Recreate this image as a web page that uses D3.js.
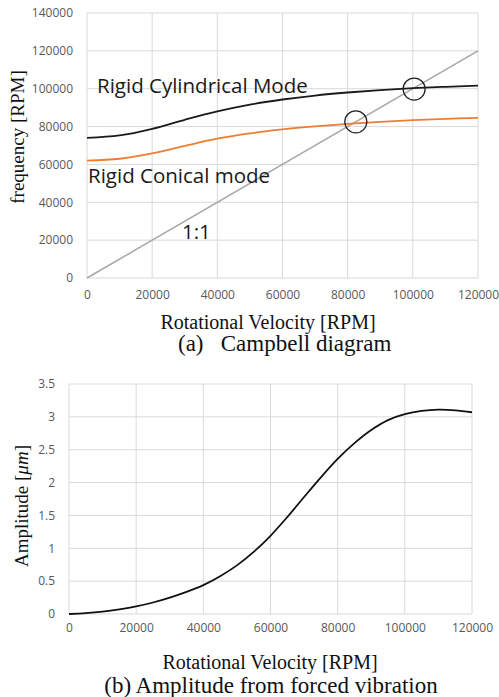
<!DOCTYPE html>
<html>
<head>
<meta charset="utf-8">
<script src="https://cdn.jsdelivr.net/npm/d3@7"></script>
<style>
  body { margin: 0; background: #fff; }
  .tick text { font-family: "Open Sans", sans-serif; font-size: 12px; fill: #595959; }
  .serif { font-family: "Liberation Serif", "Times New Roman", serif; fill: #111; }
  .note { font-family: "Open Sans", sans-serif; font-size: 20.5px; fill: #1a1a1a; }
</style>
</head>
<body>
<svg id="fig" width="499" height="697"></svg>
<script>
// campbell diagram data
var speed = [0, 10000, 20000, 30000, 40000, 50000, 60000, 70000, 80000, 90000, 100000, 110000, 120000];
var cylMode = [74000, 75300, 78800, 83600, 88000, 91600, 94300, 96400, 98000, 99300, 100300, 101000, 101600];
var conMode = [62000, 63000, 65800, 69800, 73600, 76400, 78500, 80100, 81400, 82500, 83400, 84100, 84600];
var crossings = [[82500, 82500], [100400, 99800]];

// forced vibration amplitude
var ampSpeed = [0, 5000, 10000, 15000, 20000, 25000, 30000, 35000, 40000, 45000, 50000, 55000, 60000,
  65000, 70000, 75000, 80000, 85000, 90000, 95000, 100000, 105000, 110000, 115000, 120000];
var amplitude = [0, 0.012, 0.035, 0.07, 0.115, 0.175, 0.25, 0.337, 0.44, 0.575, 0.74, 0.945, 1.19,
  1.475, 1.78, 2.08, 2.36, 2.6, 2.8, 2.95, 3.04, 3.09, 3.11, 3.1, 3.07];

var xTicks = [0, 20000, 40000, 60000, 80000, 100000, 120000];
var yTicksA = [0, 20000, 40000, 60000, 80000, 100000, 120000, 140000];
var yTicksB = [0, 0.5, 1, 1.5, 2, 2.5, 3, 3.5];

var svg = d3.select("#fig");

function grid(g, x, y, xt, yt) {
  g.selectAll(".vg").data(xt).enter().append("line")
    .attr("x1", d => x(d)).attr("x2", d => x(d))
    .attr("y1", y.range()[0]).attr("y2", y.range()[1])
    .attr("stroke", "#d9d9d9").attr("stroke-width", 1);
  g.selectAll(".hg").data(yt).enter().append("line")
    .attr("x1", x.range()[0]).attr("x2", x.range()[1])
    .attr("y1", d => y(d)).attr("y2", d => y(d))
    .attr("stroke", "#d9d9d9").attr("stroke-width", 1);
}

function axes(g, x, y, xt, yt, fmtY, padX) {
  g.append("g").attr("transform", "translate(0," + y.range()[0] + ")")
    .call(d3.axisBottom(x).tickValues(xt).tickSize(0).tickPadding(padX).tickFormat(d3.format("d")))
    .call(a => a.select(".domain").remove());
  g.append("g").attr("transform", "translate(" + x.range()[0] + ",0)")
    .call(d3.axisLeft(y).tickValues(yt).tickSize(0).tickPadding(14).tickFormat(fmtY))
    .call(a => a.select(".domain").remove());
}

// ---- (a) Campbell diagram
var xa = d3.scaleLinear().domain([0, 120000]).range([87, 478]);
var ya = d3.scaleLinear().domain([0, 140000]).range([278, 13]);
var ga = svg.append("g");
grid(ga, xa, ya, xTicks, yTicksA);
axes(ga, xa, ya, xTicks, yTicksA, d3.format("d"), 12);

ga.append("line")
  .attr("x1", xa(0)).attr("y1", ya(0))
  .attr("x2", xa(120000)).attr("y2", ya(120000))
  .attr("stroke", "#a6a6a6").attr("stroke-width", 1.5);

var lineA = d3.line().curve(d3.curveCatmullRom.alpha(0.5)).x((d, i) => xa(speed[i])).y(d => ya(d));
ga.append("path").attr("d", lineA(conMode)).attr("fill", "none")
  .attr("stroke", "#ed7d31").attr("stroke-width", 1.8);
ga.append("path").attr("d", lineA(cylMode)).attr("fill", "none")
  .attr("stroke", "#1a1a1a").attr("stroke-width", 1.8);

ga.selectAll(".cross").data(crossings).enter().append("circle")
  .attr("cx", d => xa(d[0])).attr("cy", d => ya(d[1])).attr("r", 11)
  .attr("fill", "none").attr("stroke", "#222").attr("stroke-width", 1.3);

ga.append("text").attr("class", "note").attr("x", 97).attr("y", 93).text("Rigid Cylindrical Mode");
ga.append("text").attr("class", "note").attr("x", 88).attr("y", 183).text("Rigid Conical mode");
ga.append("text").attr("class", "note").attr("x", 182).attr("y", 239).text("1:1");

ga.append("text").attr("class", "serif")
  .attr("transform", "translate(24,137) rotate(-90)").attr("text-anchor", "middle")
  .style("font-size", "19px").text("frequency [RPM]");
ga.append("text").attr("class", "serif").attr("x", 268).attr("y", 329)
  .attr("text-anchor", "middle").style("font-size", "20px").text("Rotational Velocity [RPM]");
ga.append("text").attr("class", "serif").attr("x", 178).attr("y", 351)
  .style("font-size", "23px").style("white-space", "pre").text("(a)   Campbell diagram");

// ---- (b) amplitude
var xb = d3.scaleLinear().domain([0, 120000]).range([69, 472]);
var yb = d3.scaleLinear().domain([0, 3.5]).range([614, 384]);
var gb = svg.append("g");
grid(gb, xb, yb, xTicks, yTicksB);
axes(gb, xb, yb, xTicks, yTicksB, d => d, 9);

var lineB = d3.line().curve(d3.curveCatmullRom.alpha(0.5)).x((d, i) => xb(ampSpeed[i])).y(d => yb(d));
gb.append("path").attr("d", lineB(amplitude)).attr("fill", "none")
  .attr("stroke", "#111").attr("stroke-width", 1.8);

var amp = gb.append("text").attr("class", "serif")
  .attr("transform", "translate(28,506) rotate(-90)").attr("text-anchor", "middle")
  .style("font-size", "19px");
amp.append("tspan").text("Amplitude [");
amp.append("tspan").style("font-style", "italic").text("μm");
amp.append("tspan").text("]");

gb.append("text").attr("class", "serif").attr("x", 270).attr("y", 669)
  .attr("text-anchor", "middle").style("font-size", "20px").text("Rotational Velocity [RPM]");
gb.append("text").attr("class", "serif").attr("x", 271).attr("y", 693)
  .attr("text-anchor", "middle").style("font-size", "23px").text("(b) Amplitude from forced vibration");
</script>
</body>
</html>
